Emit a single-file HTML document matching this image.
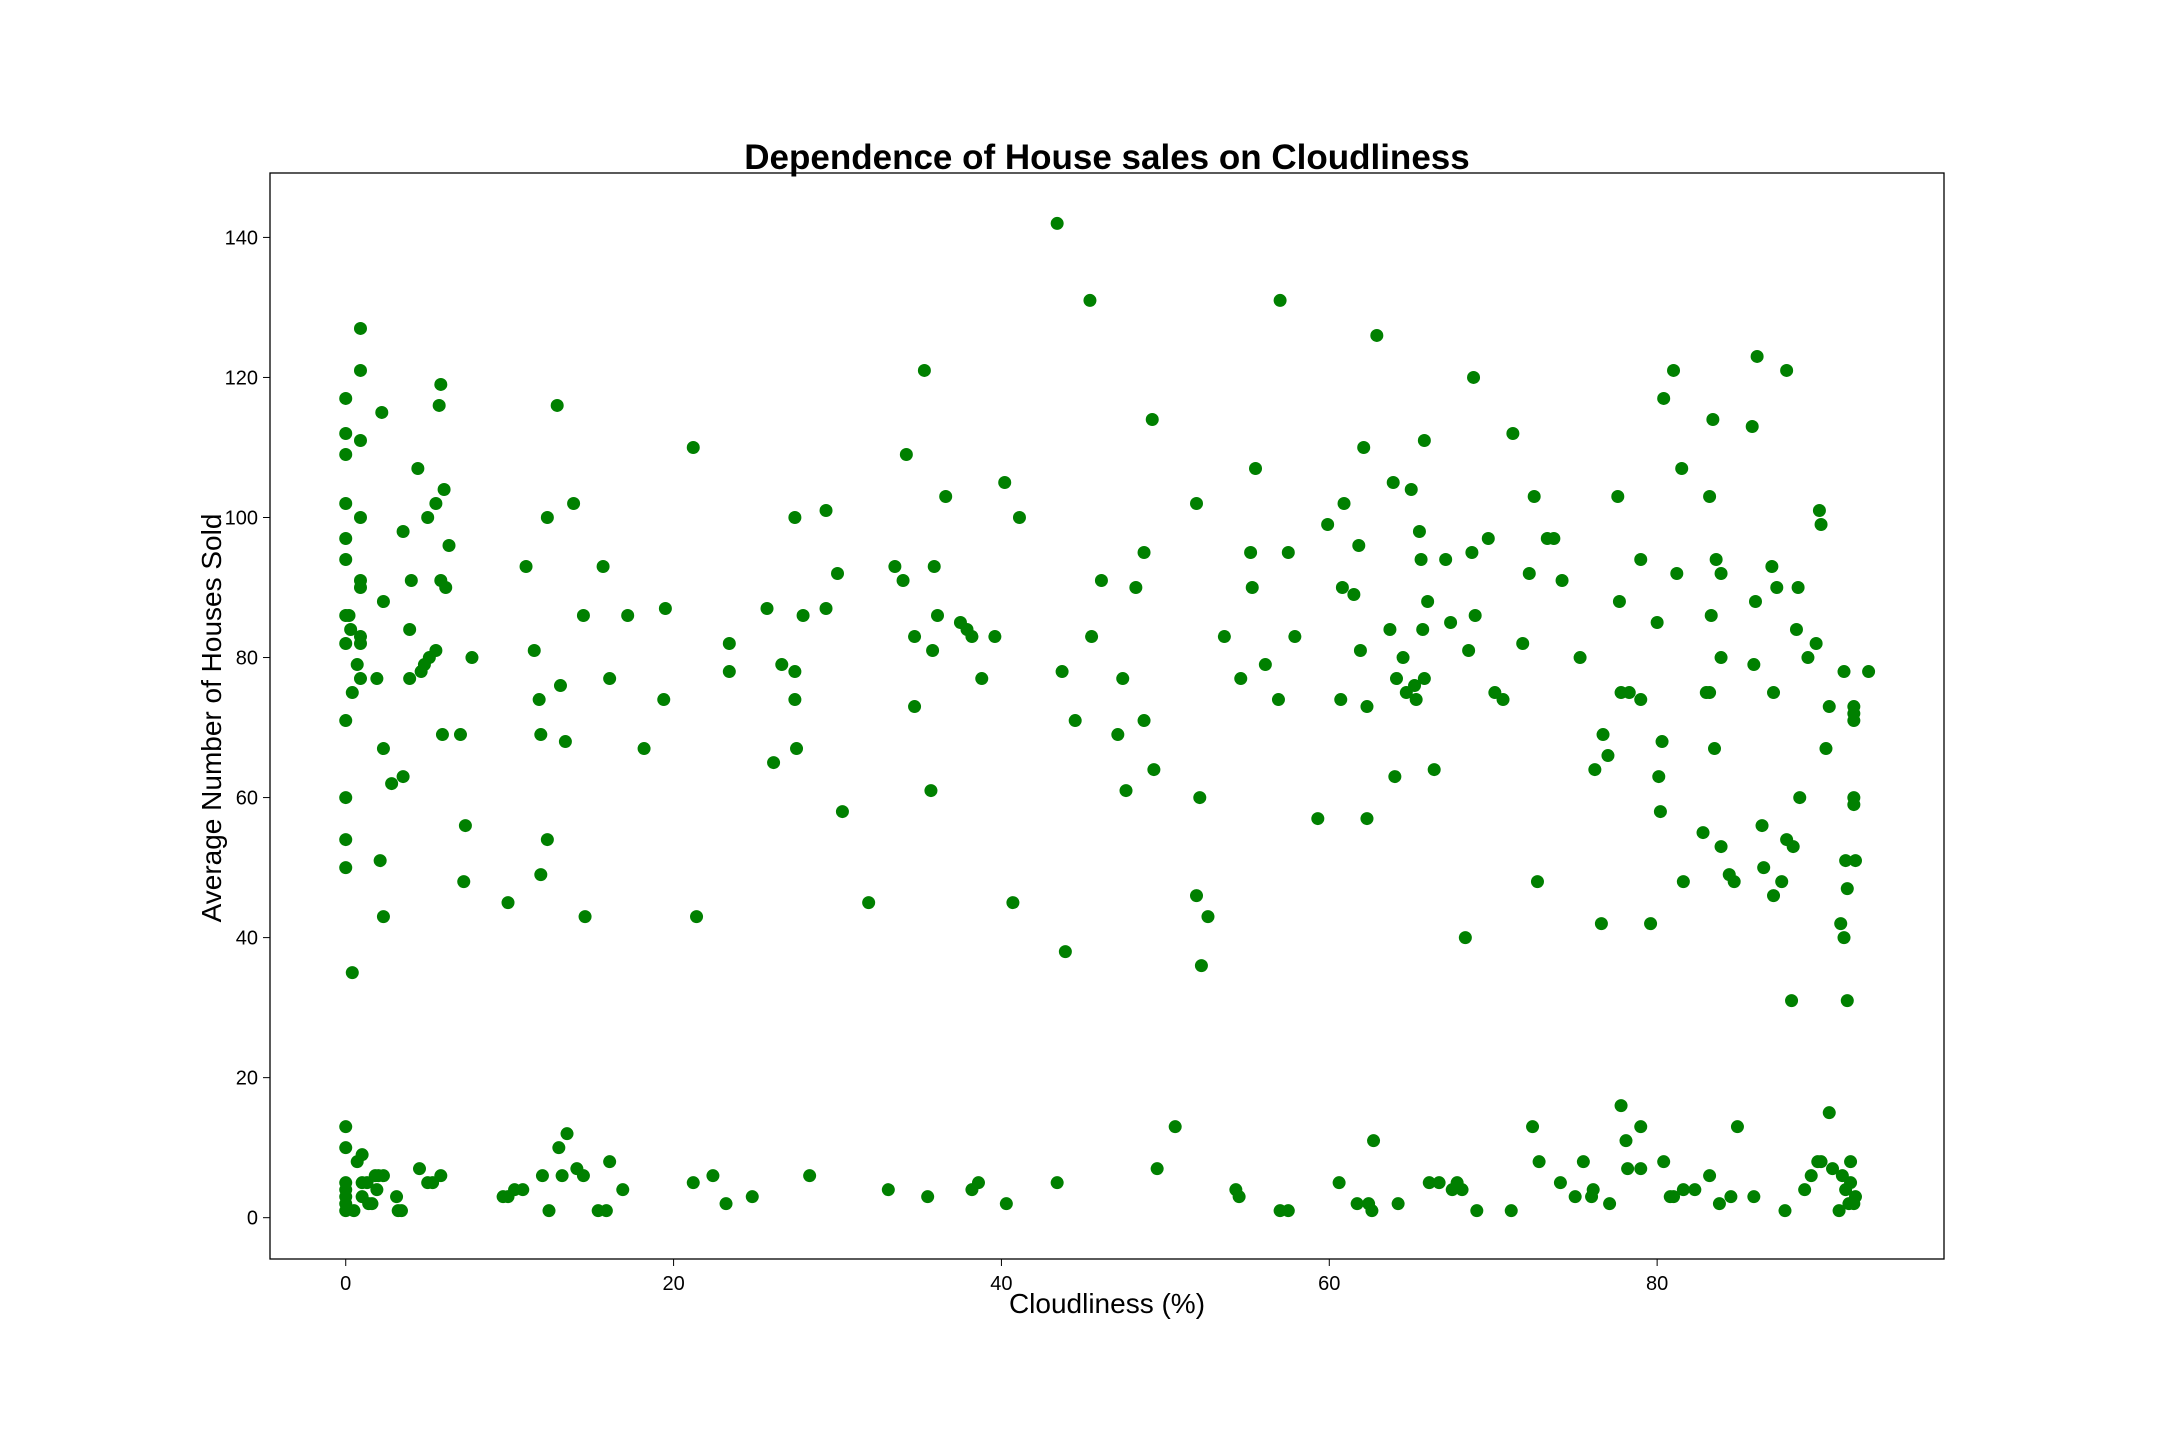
<!DOCTYPE html>
<html><head><meta charset="utf-8"><style>
body{margin:0;background:#fff;}
svg{display:block;font-family:"Liberation Sans","DejaVu Sans",sans-serif;}
</style></head><body>
<svg id="chart" width="2160" height="1440" viewBox="0 0 2160 1440">
<rect width="2160" height="1440" fill="#fff"/>
<text x="1107" y="169" font-size="35" font-weight="bold" text-anchor="middle">Dependence of House sales on Cloudliness</text>
<text x="1107" y="1313" font-size="28" text-anchor="middle">Cloudliness (%)</text>
<text x="0" y="0" font-size="28" text-anchor="middle" transform="translate(221,718) rotate(-90)">Average Number of Houses Sold</text>
<g id="ticks"></g>
<g id="points"></g>
<rect x="270" y="173" width="1674" height="1086" fill="none" stroke="#000" stroke-width="1.3"/>
</svg>
<script>
const xTicks=[0,20,40,60,80];
const yTicks=[0,20,40,60,80,100,120,140];
const cloud=[0,0,0,0,0,0,0,0,0,0,0,0,0,0,0,0,0,0,0,
0.2,0.3,0.4,0.4,0.5,0.7,0.7,
0.9,0.9,0.9,0.9,0.9,0.9,0.9,0.9,0.9,1,1,1,
1.3,1.4,1.6,1.8,1.9,1.9,2.0,
2.2,2.3,2.3,2.1,2.3,2.3,2.8,
3.1,3.2,3.4,3.5,3.5,3.9,3.9,4.0,4.4,4.5,4.6,4.8,5.0,5.1,5.0,5.3,5.5,5.5,5.7,5.8,5.8,5.9,5.8,6.0,6.1,6.3,
7.0,7.3,7.2,7.7,
9.6,9.9,9.9,10.3,10.8,11.0,11.5,11.8,11.9,11.9,12.0,12.3,12.3,12.4,12.9,13.0,13.1,13.2,13.4,13.5,13.9,14.1,14.5,14.5,14.6,15.4,15.7,15.9,16.1,16.1,16.9,17.2,18.2,19.5,19.4,
21.2,21.2,21.4,22.4,23.2,23.4,23.4,24.8,25.7,26.1,26.6,27.4,27.4,27.4,27.5,27.9,28.3,29.3,29.3,30.0,30.3,31.9,33.1,33.5,34.0,34.2,34.7,34.7,35.3,35.5,35.7,35.8,35.9,36.1,36.6,37.5,37.9,38.2,38.2,38.6,38.8,39.6,40.2,40.3,40.7,41.1,
43.4,43.4,43.7,43.9,44.5,45.4,45.5,46.1,47.1,47.4,47.6,48.2,48.7,48.7,49.2,49.3,49.5,50.6,51.9,51.9,52.1,52.2,52.6,53.6,54.3,54.5,54.6,55.2,55.3,55.5,56.1,56.9,57.0,57.0,57.5,57.5,57.9,59.3,59.9,60.6,60.7,60.8,60.9,61.5,61.7,61.8,61.9,62.1,62.3,62.3,62.4,62.6,62.7,62.9,63.7,63.9,64.0,64.1,64.2,64.5,64.7,65.0,65.2,65.3,65.5,65.6,65.7,65.8,65.8,66.0,66.1,66.4,66.7,67.1,67.4,67.5,67.8,68.1,68.3,68.5,68.7,68.8,68.9,69.0,69.7,70.1,70.6,71.1,71.2,71.8,72.2,72.4,72.5,72.7,72.8,73.3,73.7,74.1,74.2,75.0,75.3,75.5,76.0,76.1,76.2,76.6,76.7,77.0,77.1,77.6,77.7,77.8,77.8,78.1,78.3,78.2,79.0,79.0,79.0,79.0,79.6,80.0,80.1,80.2,80.3,80.4,80.4,80.8,81.0,81.0,81.2,81.5,81.6,81.6,82.3,82.8,83.0,83.2,83.2,83.2,83.3,83.4,83.5,83.6,83.8,83.9,83.9,83.9,84.4,84.5,84.7,84.9,85.8,85.9,85.9,86.0,86.1,86.4,86.5,87.0,87.1,87.1,87.3,87.6,87.8,87.9,87.9,88.2,88.3,88.5,88.6,88.7,89.0,89.2,89.4,89.7,89.8,89.9,90.0,90.0,90.3,90.5,90.5,90.7,91.1,91.2,91.3,91.4,91.4,91.5,91.5,91.6,91.6,91.7,91.8,91.8,92.0,92.0,92.0,92.0,92.0,92.1,92.1,92.0,92.9];
const sales=[117,112,109,102,97,94,86,82,71,60,54,50,13,10,5,4,3,2,1,
86,84,75,35,1,79,8,
127,121,111,100,91,90,83,82,77,9,5,3,
5,2,2,6,4,77,6,
115,88,67,51,43,6,62,
3,1,1,63,98,84,77,91,107,7,78,79,100,80,5,5,81,102,116,119,91,69,6,104,90,96,
69,56,48,80,
3,45,3,4,4,93,81,74,69,49,6,100,54,1,116,10,76,6,68,12,102,7,86,6,43,1,93,1,77,8,4,86,67,87,74,
110,5,43,6,2,82,78,3,87,65,79,100,78,74,67,86,6,101,87,92,58,45,4,93,91,109,83,73,121,3,61,81,93,86,103,85,84,83,4,5,77,83,105,2,45,100,
5,142,78,38,71,131,83,91,69,77,61,90,95,71,114,64,7,13,102,46,60,36,43,83,4,3,77,95,90,107,79,74,131,1,95,1,83,57,99,5,74,90,102,89,2,96,81,110,73,57,2,1,11,126,84,105,63,77,2,80,75,104,76,74,98,94,84,111,77,88,5,64,5,94,85,4,5,4,40,81,95,120,86,1,97,75,74,1,112,82,92,13,103,48,8,97,97,5,91,3,80,8,3,4,64,42,69,66,2,103,88,75,16,11,75,7,94,74,13,7,42,85,63,58,68,117,8,3,3,121,92,107,48,4,4,55,75,75,103,6,86,114,67,94,2,80,92,53,49,3,48,13,113,79,3,88,123,56,50,93,75,46,90,48,1,54,121,31,53,84,90,60,4,80,6,82,8,101,99,8,67,73,15,7,1,42,6,78,40,4,51,31,47,2,5,8,60,73,72,71,59,51,3,2,78];
const X0=270,X1=1944,Y0=173,Y1=1259,xmin=-4.62,xmax=97.5,ymin=-5.9,ymax=149.2;
function sx(v){return X0+(v-xmin)/(xmax-xmin)*(X1-X0);}
function sy(v){return Y1-(v-ymin)/(ymax-ymin)*(Y1-Y0);}
const NS='http://www.w3.org/2000/svg';
const tg=document.getElementById('ticks');
xTicks.forEach(t=>{
  const l=document.createElementNS(NS,'line');
  l.setAttribute('x1',sx(t));l.setAttribute('x2',sx(t));l.setAttribute('y1',Y1);l.setAttribute('y2',Y1+7);l.setAttribute('stroke','#000');
  
  
  tg.appendChild(l);
  const tx=document.createElementNS(NS,'text');
  tx.setAttribute('x',sx(t));tx.setAttribute('y',Y1+31);tx.setAttribute('font-size','20');tx.setAttribute('text-anchor','middle');tx.textContent=t;
  
  
  tg.appendChild(tx);
});
yTicks.forEach(t=>{
  const l=document.createElementNS(NS,'line');
  l.setAttribute('x1',X0-7);l.setAttribute('x2',X0);l.setAttribute('y1',sy(t));l.setAttribute('y2',sy(t));l.setAttribute('stroke','#000');
  
  
  tg.appendChild(l);
  const tx=document.createElementNS(NS,'text');
  tx.setAttribute('x',X0-12);tx.setAttribute('y',sy(t)+7);tx.setAttribute('font-size','20');tx.setAttribute('text-anchor','end');tx.textContent=t;
  
  
  tg.appendChild(tx);
});
const pg=document.getElementById('points');
const n=Math.min(cloud.length,sales.length);
for(let i=0;i<n;i++){
  const c=document.createElementNS(NS,'circle');
  c.setAttribute('cx',sx(cloud[i]));c.setAttribute('cy',sy(sales[i]));c.setAttribute('r','6.5');c.setAttribute('fill','#008000');
  
  
  pg.appendChild(c);
}
</script>
</body></html>
